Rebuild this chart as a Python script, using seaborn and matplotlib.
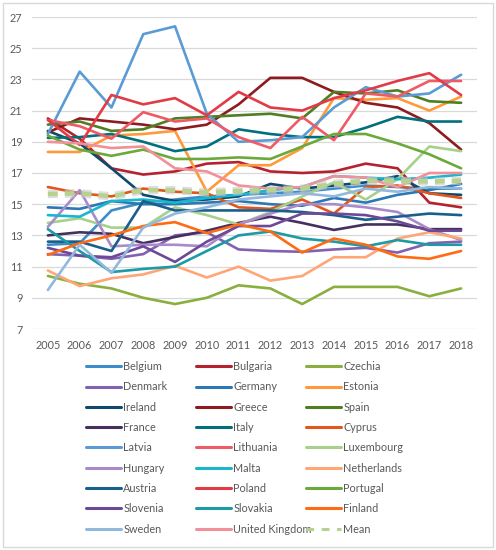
import pandas as pd
import matplotlib
matplotlib.use("Agg")
import matplotlib.pyplot as plt
import matplotlib.patheffects as pe
from matplotlib.lines import Line2D
from matplotlib.patches import Rectangle
import seaborn as sns

years = list(range(2005, 2019))

countries = ["Belgium", "Bulgaria", "Czechia", "Denmark", "Germany", "Estonia",
             "Ireland", "Greece", "Spain", "France", "Italy", "Cyprus",
             "Latvia", "Lithuania", "Luxembourg", "Hungary", "Malta", "Netherlands",
             "Austria", "Poland", "Portugal", "Slovenia", "Slovakia", "Finland",
             "Sweden", "United Kingdom"]

belgium = [12.4, 12.5, 14.6, 15.1, 15.3, 15.5, 15.6, 15.7, 15.8, 16.0, 16.2, 16.1, 16.0, 16.0]
bulgaria = [20.5, 19.2, 17.3, 16.9, 17.1, 17.6, 17.7, 17.1, 17.0, 17.1, 17.6, 17.3, 15.1, 14.8]
czechia = [10.4, 9.9, 9.6, 9.0, 8.6, 9.0, 9.8, 9.6, 8.6, 9.7, 9.7, 9.7, 9.1, 9.6]
denmark = [11.8, 11.7, 11.5, 11.8, 13.0, 13.2, 12.1, 12.0, 11.95, 12.1, 12.2, 11.9, 12.5, 12.6]
germany = [14.8, 14.7, 15.2, 15.0, 15.0, 15.1, 15.2, 15.0, 14.9, 15.4, 15.1, 15.6, 15.9, 16.3]
estonia = [18.35, 18.35, 19.4, 19.5, 19.7, 15.8, 17.5, 17.5, 18.6, 21.8, 21.7, 21.8, 21.0, 21.9]
ireland = [19.7, 18.9, 17.3, 15.6, 15.2, 15.3, 15.5, 16.3, 16.0, 16.2, 16.4, 16.8, 15.7, 15.6]
greece = [19.6, 20.5, 20.3, 20.1, 19.8, 20.1, 21.4, 23.1, 23.1, 22.2, 21.5, 21.2, 20.2, 18.5]
spain = [20.1, 20.3, 19.7, 19.8, 20.5, 20.6, 20.7, 20.8, 20.5, 22.2, 22.1, 22.3, 21.6, 21.5]
france = [13.0, 13.2, 13.1, 12.5, 12.9, 13.3, 13.8, 14.2, 13.8, 13.35, 13.7, 13.7, 13.4, 13.4]
italy = [19.25, 19.3, 19.5, 19.0, 18.4, 18.7, 19.8, 19.5, 19.3, 19.3, 19.9, 20.6, 20.3, 20.3]
cyprus = [16.1, 15.7, 15.5, 16.0, 15.8, 15.7, 14.8, 14.7, 15.3, 14.4, 16.1, 16.2, 15.7, 15.4]
latvia = [19.5, 23.5, 21.2, 25.9, 26.4, 20.8, 19.0, 19.1, 19.3, 21.2, 22.5, 21.9, 22.1, 23.3]
lithuania = [20.4, 20.0, 19.2, 20.9, 20.3, 20.5, 19.3, 18.6, 20.6, 19.1, 22.1, 21.9, 22.9, 22.9]
luxembourg = [13.8, 14.1, 13.5, 13.5, 14.8, 14.3, 13.7, 14.5, 15.5, 16.4, 15.3, 16.6, 18.7, 18.4]
hungary = [13.55, 15.9, 12.3, 12.4, 12.4, 12.3, 13.7, 14.4, 15.0, 15.0, 14.8, 14.5, 13.4, 12.7]
malta = [14.3, 14.2, 15.2, 15.3, 15.1, 15.4, 15.6, 15.9, 16.1, 16.8, 16.7, 16.6, 16.7, 16.9]
netherlands = [10.75, 9.75, 10.25, 10.5, 11.05, 10.3, 11.0, 10.1, 10.4, 11.6, 11.6, 12.8, 13.2, 12.8]
austria = [12.6, 12.6, 12.0, 15.2, 14.6, 14.6, 14.6, 14.6, 14.5, 14.3, 14.0, 14.2, 14.4, 14.3]
poland = [20.4, 18.8, 22.0, 21.4, 21.8, 20.7, 22.2, 21.2, 21.0, 21.8, 22.3, 22.9, 23.4, 22.0]
portugal = [19.4, 18.5, 18.1, 18.5, 17.9, 17.9, 18.0, 17.9, 18.7, 19.5, 19.5, 18.9, 18.2, 17.3]
slovenia = [12.2, 11.7, 11.6, 12.3, 11.3, 12.6, 13.6, 13.6, 14.4, 14.4, 14.3, 13.9, 13.3, 13.3]
slovakia = [13.4, 12.0, 10.65, 10.85, 11.0, 12.0, 13.0, 13.25, 12.8, 12.6, 12.3, 12.7, 12.4, 12.4]
finland = [11.75, 12.5, 13.0, 13.6, 13.85, 13.15, 13.7, 13.25, 11.9, 12.8, 12.4, 11.65, 11.5, 12.0]
sweden = [9.5, 12.4, 10.6, 13.5, 14.4, 14.8, 15.3, 15.5, 15.7, 15.5, 16.0, 15.8, 16.1, 16.0]
united_kingdom = [19.0, 18.9, 18.6, 18.7, 17.3, 17.1, 16.2, 16.0, 16.1, 16.8, 16.7, 16.1, 17.0, 17.0]
mean = [15.65, 15.7, 15.5, 15.9, 15.9, 15.75, 15.85, 15.9, 16.0, 16.3, 16.5, 16.5, 16.45, 16.5]

series = [belgium, bulgaria, czechia, denmark, germany, estonia, ireland, greece, spain,
          france, italy, cyprus, latvia, lithuania, luxembourg, hungary, malta, netherlands,
          austria, poland, portugal, slovenia, slovakia, finland, sweden, united_kingdom]

colors = ["#3C8DC8", "#B5222F", "#8AAF3E", "#8262B0", "#2C78B4", "#FF9A3A",
          "#0D4A6E", "#8C1C1F", "#4E7F23", "#45305F", "#02707C", "#E0561B",
          "#5B9BD5", "#EE5A66", "#A8D08D", "#A98BCB", "#19B6CC", "#FFA677",
          "#1A5F8C", "#E23B45", "#6AAA3A", "#6C4A98", "#1C9AA6", "#FF6B12",
          "#93B8DE", "#F2909A"]
palette = dict(zip(countries, colors))

rows = []
for name, vals in zip(countries, series):
    for y, v in zip(years, vals):
        rows.append({"country": name, "year": y, "value": v})
df = pd.DataFrame(rows)
df_mean = pd.DataFrame({"year": years, "value": mean})

sns.set_theme(style="white")
plt.rcParams["font.family"] = ["Lato", "DejaVu Sans"]

fig = plt.figure(figsize=(4.96, 5.5), dpi=100)
ax = fig.add_axes([32 / 496, 1 - 329 / 550, (477 - 32) / 496, (329 - 17) / 550])

sns.lineplot(data=df, x="year", y="value", hue="country", palette=palette,
             hue_order=countries, linewidth=1.9, legend=False, ax=ax, sort=False)
sns.lineplot(data=df_mean, x="year", y="value", color="#B7D28F", linewidth=3.2,
             linestyle=(0, (2.2, 1.6)), ax=ax, legend=False,
             path_effects=[pe.Stroke(linewidth=6, foreground="#C8C8C8", alpha=0.6), pe.Normal()])

ax.set_xlim(2004.5, 2018.5)
ax.set_ylim(7, 27)
ax.set_yticks(range(7, 28, 2))
ax.set_xticks(years)
ax.set_xlabel("")
ax.set_ylabel("")
ax.grid(axis="y", color="#D9D9D9", linewidth=0.9)
ax.set_axisbelow(True)
for s in ax.spines.values():
    s.set_visible(False)
ax.tick_params(axis="both", length=0, labelsize=7.8, labelcolor="#595959")
ax.tick_params(axis="x", pad=8)
ax.tick_params(axis="y", pad=7)

# legend: three separate columns laid out row by row
handles = [Line2D([], [], color=c, linewidth=2.2) for c in colors]
handles.append(Line2D([], [], color="#B7D28F", linewidth=2.2, linestyle=(0, (2.5, 2.5))))
labels = countries + ["Mean"]
col_x = [86, 196, 306]
for i in range(3):
    leg = fig.legend(handles[i::3], labels[i::3], loc="upper left",
                     bbox_to_anchor=(col_x[i] / 496, 1 - 361 / 550),
                     frameon=False, fontsize=7.8, handlelength=3.2, handletextpad=0.25,
                     labelspacing=0.86, borderpad=0, borderaxespad=0)
    for t in leg.get_texts():
        t.set_color("#595959")

fig.patches.append(Rectangle((3 / 496, 3 / 550), 490 / 496, 544 / 550, transform=fig.transFigure,
                             fill=False, edgecolor="#D9D9D9", linewidth=1))

fig.savefig("out.png", dpi=100)
